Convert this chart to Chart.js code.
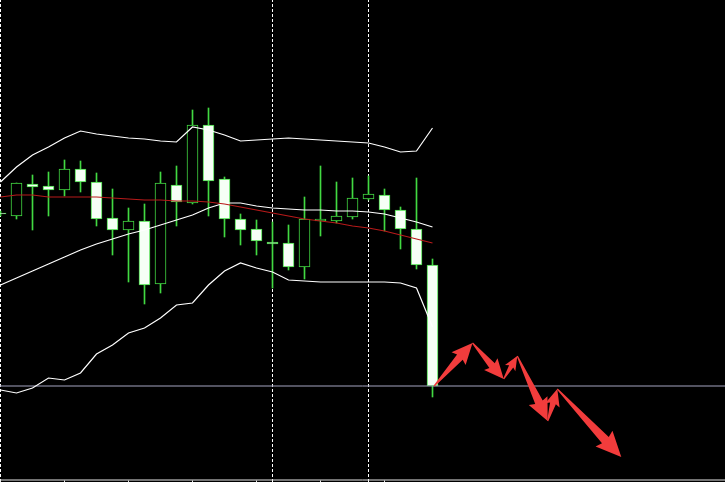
<!DOCTYPE html>
<html>
<head>
<meta charset="utf-8">
<script src="https://cdn.jsdelivr.net/npm/chart.js@4.4.0/dist/chart.umd.min.js"></script>
<style>
  html, body { margin: 0; padding: 0; background: #000; }
  #chart { display: block; }
</style>
</head>
<body>
<canvas id="chart" width="725" height="482"></canvas>
<script>
// Bars (index = bar number), prices in chart points
const bars = [0, 1, 2, 3, 4, 5, 6, 7, 8, 9, 10, 11, 12, 13, 14, 15, 16, 17, 18, 19, 20, 21, 22, 23, 24, 25, 26, 27];
const opens  = [269, 266, 298, 296, 292, 313, 300, 264, 252, 261, 198, 297, 279, 357, 303, 263, 253, 240, 239, 215, 261, 261, 265, 283, 287, 272, 253, 217];
const highs  = [271, 299, 307, 310, 322, 321, 309, 293, 274, 278, 310, 316, 372, 374, 305, 268, 262, 260, 257, 285, 316, 300, 304, 306, 293, 275, 304, 223];
const lows   = [266, 263, 252, 266, 286, 290, 256, 227, 200, 178, 189, 256, 278, 266, 245, 237, 227, 194, 212, 203, 246, 259, 263, 282, 251, 233, 213, 85];
const closes = [268, 299, 295, 292, 313, 300, 263, 252, 261, 197, 299, 280, 357, 301, 263, 252, 241, 238, 215, 263, 263, 266, 284, 288, 272, 253, 217, 96];

// Bollinger bands and moving average
const bbUpper  = [300, 315, 327, 335, 344, 351, 348, 346, 344, 343, 341, 340, 355, 352, 347, 341, 342, 343, 344, 343, 342, 341, 340, 339, 335, 330, 331, 354];
const bbMiddle = [197, 204, 211, 218, 225, 232, 238, 243, 248, 252, 257, 262, 267, 274, 279, 279, 276, 274, 273, 272, 272, 271, 271, 270, 268, 264, 260, 255];
const bbLower  = [92, 89, 94, 104, 102, 109, 128, 137, 149, 154, 164, 177, 179, 197, 211, 219, 214, 210, 202, 201, 200, 200, 200, 200, 200, 199, 194, 155];
const maRed    = [285, 287, 287, 285, 285, 285, 285, 284, 283, 282, 282, 281, 281, 280, 278, 275, 272, 269, 266, 263, 261, 259, 256, 254, 251, 247, 243, 239];

// horizontal level, period separators, time ticks
const levelPrice = 96;
const separators = [0, 17, 23];
const timeTicks = [0, 4, 8, 12, 16, 20, 24];

// projected path drawn as arrows
const pathX = [27.1, 29.5, 31.45, 32.3, 34.2, 34.8, 38.8];
const pathY = [96, 139, 103, 126, 61, 93, 25];

const GREEN = '#42d942';

const bodyData = bars.map((b, i) => ({ x: b, y: [opens[i], closes[i]] }));
const wickData = bars.map((b, i) => ({ x: b, y: [lows[i], highs[i]] }));
const toLine = arr => bars.map((b, i) => ({ x: b, y: arr[i] }));

const datasets = [
  { type: 'line', data: toLine(maRed), borderColor: '#b81a1a', borderWidth: 1.2, pointRadius: 0, order: 0 },
  { type: 'line', data: toLine(bbUpper), borderColor: '#ffffff', borderWidth: 1.2, pointRadius: 0, order: 0 },
  { type: 'line', data: toLine(bbMiddle), borderColor: '#ffffff', borderWidth: 1.2, pointRadius: 0, order: 0 },
  { type: 'line', data: toLine(bbLower), borderColor: '#ffffff', borderWidth: 1.2, pointRadius: 0, order: 0 },
  { type: 'line', data: [{ x: -1, y: levelPrice }, { x: 50, y: levelPrice }], borderColor: '#a4a4c0', borderWidth: 1, pointRadius: 0, order: 0 },
  { type: 'line', data: [{ x: -1, y: 2 }, { x: 50, y: 2 }], borderColor: '#e6e6e6', borderWidth: 1, pointRadius: 0, order: 0 },
  {
    type: 'bar', data: bodyData, order: 1,
    backgroundColor: bars.map((b, i) => closes[i] < opens[i] ? '#f6fff6' : '#000000'),
    borderColor: GREEN, borderWidth: 1, borderSkipped: false,
    barThickness: 11, grouped: false
  },
  { type: 'bar', data: wickData, order: 2, backgroundColor: GREEN, borderWidth: 0, barThickness: 1, grouped: false },
  { type: 'line', data: pathX.map((x, i) => ({ x: x, y: pathY[i] })), showLine: false, pointRadius: 0, order: 0, arrows: true }
];

separators.forEach(s => {
  datasets.push({
    type: 'line', data: [{ x: s, y: 0 }, { x: s, y: 482 }],
    borderColor: '#ffffff', borderWidth: 1, borderDash: [3, 2], pointRadius: 0, order: 3
  });
});

// Arrows + time ticks
const drawExtras = {
  id: 'drawExtras',
  beforeDraw(chart) {
    const ctx = chart.ctx;
    ctx.save();
    ctx.fillStyle = '#000';
    ctx.fillRect(0, 0, chart.width, chart.height);
    ctx.restore();
  },
  afterDatasetsDraw(chart) {
    const ctx = chart.ctx;
    const xs = chart.scales.x, ys = chart.scales.y;
    ctx.save();
    ctx.strokeStyle = '#e6e6e6';
    ctx.lineWidth = 1;
    const yb = Math.round(ys.getPixelForValue(2)) + 0.5;
    timeTicks.forEach(t => {
      const px = Math.floor(xs.getPixelForValue(t)) + 0.5;
      ctx.beginPath();
      ctx.moveTo(px, yb);
      ctx.lineTo(px, yb + 3);
      ctx.stroke();
    });

    chart.data.datasets.forEach((ds, di) => {
      if (!ds.arrows) return;
      const pts = chart.getDatasetMeta(di).data;
      ctx.fillStyle = '#f23c3c';
      for (let i = 0; i < pts.length - 1; i++) {
        const p = pts[i], q = pts[i + 1];
        const dx = q.x - p.x, dy = q.y - p.y;
        const len = Math.sqrt(dx * dx + dy * dy);
        const ux = dx / len, uy = dy / len;
        const nx = -uy, ny = ux;
        const headLen = Math.min(len * 0.45, 12 + len * 0.12);
        const headHalf = headLen * 0.5;
        const sw = headHalf * 0.4;
        const bx = q.x - ux * headLen, by = q.y - uy * headLen;
        ctx.beginPath();
        ctx.moveTo(p.x + nx * 0.6, p.y + ny * 0.6);
        ctx.lineTo(bx + nx * sw, by + ny * sw);
        ctx.lineTo(bx - ux * 2 + nx * headHalf, by - uy * 2 + ny * headHalf);
        ctx.lineTo(q.x, q.y);
        ctx.lineTo(bx - ux * 2 - nx * headHalf, by - uy * 2 - ny * headHalf);
        ctx.lineTo(bx - nx * sw, by - ny * sw);
        ctx.lineTo(p.x - nx * 0.6, p.y - ny * 0.6);
        ctx.closePath();
        ctx.fill();
      }
    });
    ctx.restore();
  }
};

const chart = new Chart(document.getElementById('chart').getContext('2d'), {
  type: 'bar',
  data: { datasets: datasets },
  options: {
    responsive: false,
    devicePixelRatio: 1,
    animation: false,
    layout: { padding: 0 },
    plugins: { legend: { display: false }, tooltip: { enabled: false } },
    elements: { line: { tension: 0 } },
    scales: {
      x: { type: 'linear', min: -0.03125, max: 45.28125, offset: false, display: false },
      y: { type: 'linear', min: 0, max: 482, display: false }
    }
  },
  plugins: [drawExtras]
});
</script>
</body>
</html>
